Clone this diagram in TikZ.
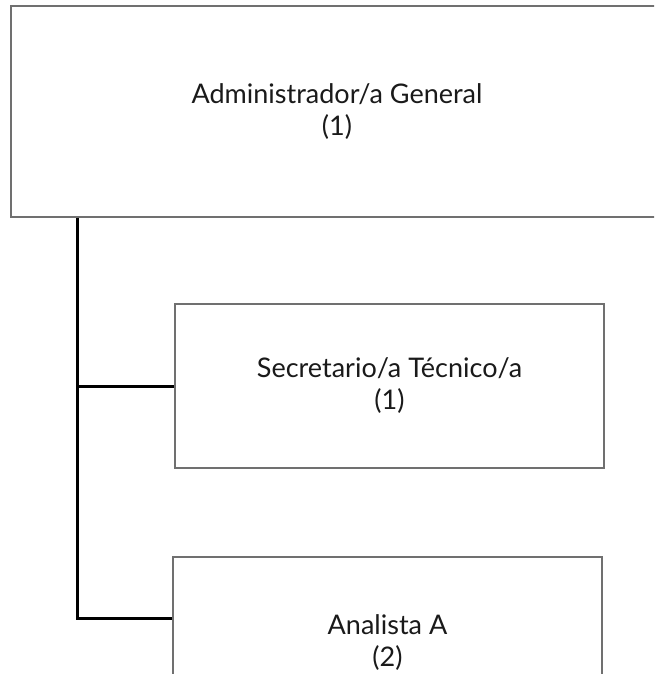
\documentclass[tikz,border=0pt]{standalone}
\usepackage{fontspec}
\setmainfont{Lato}
\definecolor{boxgray}{HTML}{707070}
\definecolor{txt}{HTML}{1A1A1A}
\begin{document}
\begin{tikzpicture}[x=1pt,y=-1pt,
  orgbox/.style={draw=boxgray,line width=1.4pt,fill=white,inner sep=0pt,
    align=center,text=txt,font=\fontsize{27}{32}\selectfont},
  link/.style={line width=3pt,black}]
\useasboundingbox (0,0) rectangle (654,674);
\clip (0,0) rectangle (654,674);
\node[orgbox,minimum width=652pt,minimum height=211pt] (top) at (337,111.5)
  {Administrador/a General\\(1)};
\node[orgbox,minimum width=429pt,minimum height=164pt] (sec) at (389.5,386)
  {Secretario/a Técnico/a\\(1)};
\node[orgbox,minimum width=429pt,minimum height=172pt] (ana) at (387.5,643)
  {Analista A\\(2)};
\coordinate (spine) at (77,618);
\draw[link] (top.south -| spine) -- (spine) -- (spine -| ana.west);
\draw[link] (sec.west) -- (sec.west -| spine);
\end{tikzpicture}
\end{document}
